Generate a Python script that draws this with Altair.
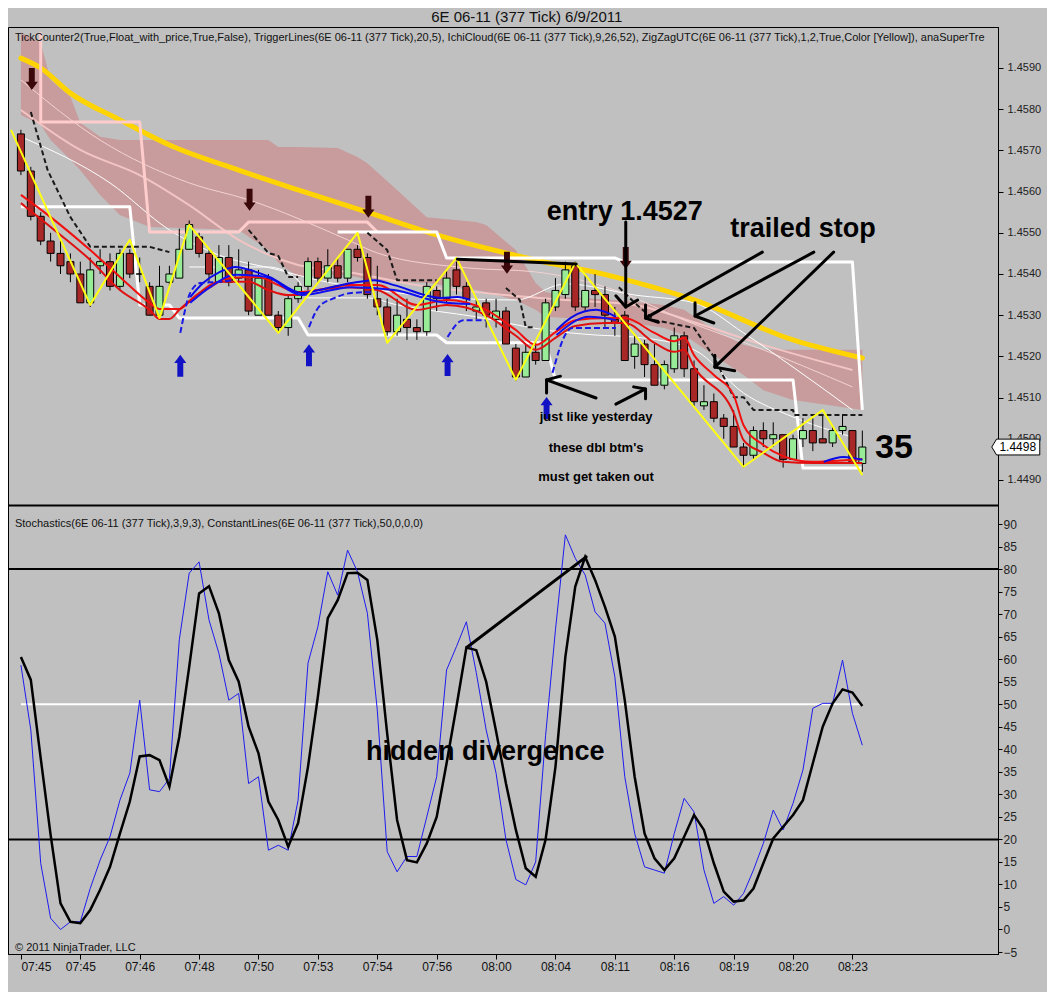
import json
import altair as alt
import pandas as pd

FONT = "Liberation Sans, Arial, Helvetica, sans-serif"

# ---------------- texts ----------------
TITLE = "6E 06-11 (377 Tick)  6/9/2011"
HEADER_PRICE = ("TickCounter2(True,Float_with_price,True,False), TriggerLines(6E 06-11 (377 Tick),20,5), "
                "IchiCloud(6E 06-11 (377 Tick),9,26,52), ZigZagUTC(6E 06-11 (377 Tick),1,2,True,Color [Yellow]), anaSuperTre")
HEADER_STOCH = "Stochastics(6E 06-11 (377 Tick),3,9,3), ConstantLines(6E 06-11 (377 Tick),50,0,0,0)"
COPYRIGHT = "\u00a9 2011 NinjaTrader, LLC"

# ---------------- x axis ----------------
time_labels = ["07:45", "07:45", "07:46", "07:48", "07:50", "07:53", "07:54", "07:56",
               "08:00", "08:04", "08:11", "08:16", "08:19", "08:20", "08:23"]
tick_bars = [0, 6, 12, 18, 24, 30, 36, 42, 48, 54, 60, 66, 72, 78, 84]

# ---------------- candles ----------------
opens = [1.4574, 1.4565, 1.4554, 1.4548, 1.4545, 1.4543, 1.4540, 1.4533, 1.4542, 1.4543,
         1.4537, 1.4545, 1.4540, 1.4537, 1.4530, 1.4538, 1.4539, 1.4546, 1.4549, 1.4545,
         1.4538, 1.4544, 1.4539, 1.4541, 1.4530, 1.4539, 1.4530, 1.4527, 1.4534, 1.4537,
         1.4543, 1.4539, 1.4542, 1.4539, 1.4546, 1.4544, 1.4534, 1.4532, 1.4526, 1.4529,
         1.4527, 1.4526, 1.4536, 1.4534, 1.4541, 1.4537, 1.4531, 1.4533, 1.4529, 1.4531,
         1.4522, 1.4515, 1.4521, 1.4519, 1.4532, 1.4535, 1.4542, 1.4532, 1.4536, 1.4535,
         1.4529, 1.4530, 1.4520, 1.4523, 1.4518, 1.4513, 1.4517, 1.4525, 1.4517, 1.4508,
         1.4509, 1.4505, 1.4503, 1.4498, 1.4496, 1.4502, 1.4500, 1.4501, 1.4495, 1.4500,
         1.4502, 1.4500, 1.4499, 1.4502, 1.4502, 1.4494]
highs = [1.4575, 1.4566, 1.4555, 1.4550, 1.4548, 1.4545, 1.4543, 1.4544, 1.4546, 1.4545,
         1.4546, 1.4546, 1.4544, 1.4538, 1.4542, 1.4542, 1.4551, 1.4553, 1.4550, 1.4546,
         1.4547, 1.4547, 1.4546, 1.4543, 1.4541, 1.4540, 1.4531, 1.4535, 1.4538, 1.4544,
         1.4544, 1.4546, 1.4544, 1.4546, 1.4547, 1.4545, 1.4542, 1.4534, 1.4534, 1.4534,
         1.4529, 1.4538, 1.4537, 1.4541, 1.4543, 1.4538, 1.4534, 1.4534, 1.4534, 1.4532,
         1.4523, 1.4523, 1.4524, 1.4534, 1.4539, 1.4543, 1.4543, 1.4540, 1.4540, 1.4537,
         1.4532, 1.4531, 1.4525, 1.4524, 1.4523, 1.4519, 1.4527, 1.4526, 1.4519, 1.4513,
         1.4511, 1.4506, 1.4507, 1.4499, 1.4503, 1.4504, 1.4504, 1.4501, 1.4501, 1.4505,
         1.4505, 1.4506, 1.4503, 1.4506, 1.4502, 1.4502]
lows = [1.4564, 1.4553, 1.4547, 1.4543, 1.4540, 1.4538, 1.4533, 1.4532, 1.4540, 1.4536,
        1.4536, 1.4539, 1.4538, 1.4530, 1.4529, 1.4537, 1.4539, 1.4546, 1.4544, 1.4538,
        1.4538, 1.4537, 1.4538, 1.4530, 1.4530, 1.4530, 1.4526, 1.4525, 1.4533, 1.4536,
        1.4538, 1.4538, 1.4538, 1.4538, 1.4543, 1.4534, 1.4530, 1.4525, 1.4525, 1.4524,
        1.4524, 1.4525, 1.4531, 1.4533, 1.4535, 1.4531, 1.4529, 1.4527, 1.4527, 1.4523,
        1.4514, 1.4515, 1.4518, 1.4519, 1.4531, 1.4534, 1.4531, 1.4531, 1.4532, 1.4527,
        1.4525, 1.4519, 1.4517, 1.4515, 1.4513, 1.4512, 1.4516, 1.4515, 1.4508, 1.4507,
        1.4504, 1.4500, 1.4498, 1.4493, 1.4495, 1.4498, 1.4498, 1.4493, 1.4495, 1.4498,
        1.4497, 1.4499, 1.4498, 1.4501, 1.4494, 1.4492]
closes = [1.4565, 1.4554, 1.4548, 1.4545, 1.4542, 1.4540, 1.4533, 1.4541, 1.4543, 1.4537,
          1.4545, 1.4540, 1.4540, 1.4530, 1.4537, 1.4540, 1.4546, 1.4552, 1.4545, 1.4540,
          1.4544, 1.4538, 1.4541, 1.4531, 1.4539, 1.4530, 1.4527, 1.4534, 1.4537, 1.4543,
          1.4539, 1.4542, 1.4539, 1.4546, 1.4544, 1.4535, 1.4532, 1.4526, 1.4530, 1.4527,
          1.4526, 1.4537, 1.4534, 1.4539, 1.4537, 1.4534, 1.4532, 1.4530, 1.4531, 1.4523,
          1.4515, 1.4521, 1.4519, 1.4533, 1.4536, 1.4541, 1.4532, 1.4536, 1.4535, 1.4530,
          1.4528, 1.4519, 1.4523, 1.4518, 1.4513, 1.4518, 1.4525, 1.4517, 1.4509, 1.4509,
          1.4505, 1.4503, 1.4498, 1.4496, 1.4502, 1.4500, 1.4501, 1.4495, 1.4500, 1.4502,
          1.4499, 1.4499, 1.4502, 1.4503, 1.4494, 1.4498]
last_price = 1.4498

# ---------------- Ichimoku cloud ----------------
cloud_bars = [0, 2, 3, 5, 6, 8, 10, 13, 22, 25, 26, 28, 32, 34, 35, 38, 41, 46, 47, 50,
              52, 53, 55, 60, 65, 67, 70, 73, 75, 78, 85]
cloud_upper = [1.45987, 1.45961, 1.45871, 1.45830, 1.45767, 1.45733, 1.45725, 1.45725, 1.45725, 1.45725,
               1.45708, 1.45708, 1.45706, 1.45684, 1.45669, 1.45604, 1.45538, 1.45526, 1.45519, 1.45458,
               1.45378, 1.45356, 1.45344, 1.45337, 1.45325, 1.45313, 1.45264, 1.45228, 1.45216, 1.45216,
               1.45216]
cloud_lower = [1.45786, 1.45762, 1.45725, 1.45677, 1.45652, 1.45592, 1.45543, 1.45514, 1.45507, 1.45458,
               1.45427, 1.45393, 1.45398, 1.45393, 1.45385, 1.45381, 1.45378, 1.45361, 1.45356, 1.45337,
               1.45313, 1.45296, 1.45293, 1.45288, 1.45269, 1.45252, 1.45203, 1.45155, 1.45118, 1.45094,
               1.45070]

# thin lines inside / around the cloud
pink_thin_bars = [0, 8, 17, 23, 33, 36, 45, 52, 60, 67, 75, 84]
pink_thin = [1.45871, 1.45725, 1.45621, 1.45580, 1.45483, 1.45451, 1.45415, 1.45405, 1.45361, 1.45288,
             1.45216, 1.45126]
pink_mid_bars = [0, 6, 12, 17, 22, 28, 33, 40, 49, 55, 62, 68, 75, 84]
pink_mid = [1.45798, 1.45701, 1.45640, 1.45567, 1.45483, 1.45422, 1.45405, 1.45373, 1.45349, 1.45337,
            1.45325, 1.45283, 1.45228, 1.45167]
white_thin_a_bars = [0, 9, 15, 20, 26, 30, 36, 43, 50, 55, 62, 68, 73, 78, 84]
white_thin_a = [1.45733, 1.45621, 1.45507, 1.45446, 1.45410, 1.45385, 1.45361, 1.45342, 1.45337, 1.45376,
                1.45349, 1.45330, 1.45257, 1.45174, 1.45070]
white_thin_b_bars = [17, 25, 28, 29, 35, 38, 46, 53, 58, 62, 68, 73, 78, 84]
white_thin_b = [1.45417, 1.45417, 1.45385, 1.45342, 1.45342, 1.45325, 1.45296, 1.45264, 1.45252, 1.45247,
                1.45216, 1.45111, 1.45053, 1.45004]

# thick yellow moving average
yellow_bars = [0, 2, 5, 10, 15, 22, 28, 35, 42, 52, 60, 68, 78, 85]
yellow_ma = [1.45924, 1.45900, 1.45839, 1.45774, 1.45713, 1.45652, 1.45604, 1.45550, 1.45495, 1.45434,
             1.45393, 1.45337, 1.45240, 1.45196]

# step lines (super trend)
pink_step_bars = [2, 2, 12, 13, 22, 23, 35, 36]
pink_step = [1.45987, 1.45769, 1.45769, 1.45502, 1.45502, 1.45526, 1.45526, 1.45502]
white_top_bars = [32, 42, 43, 60, 61, 84, 85]
white_top = [1.45502, 1.45502, 1.45439, 1.45439, 1.45429, 1.45429, 1.45070]
white_low_bars = [0, 11, 12, 15, 16, 28, 29, 42, 43, 53, 54, 78, 79, 85]
white_low = [1.45563, 1.45563, 1.45325, 1.45325, 1.45293, 1.45293, 1.45252, 1.45252, 1.45233, 1.45233,
             1.45143, 1.45143, 1.44929, 1.44929]

# black dashed trigger line (segments)
dash_segments = [
    ([1, 2.7, 5, 7, 13, 15], [1.45793, 1.45652, 1.45538, 1.45466, 1.45466, 1.45453]),
    ([23, 25, 26, 27, 28], [1.45507, 1.45451, 1.45444, 1.45393, 1.45393]),
    ([35, 37, 38, 42], [1.45500, 1.45458, 1.45385, 1.45385]),
    ([49, 50.4, 51, 52], [1.45366, 1.45337, 1.45271, 1.45271]),
    ([60.4, 62, 64, 68, 70, 72, 73, 74, 78, 78.1, 85],
     [1.45368, 1.45330, 1.45288, 1.45269, 1.45199, 1.45101, 1.45101, 1.45070, 1.45070, 1.45058, 1.45058]),
]

# red moving averages
red1_bars = [0, 3, 7, 10, 13, 14, 16, 17, 19, 21, 24, 26, 28, 30, 33, 36, 40, 43, 47, 50,
             52, 54, 56, 59, 61, 64, 66, 67, 68, 70, 72, 73, 75, 77, 80, 82, 85]
red1 = [1.45592, 1.45538, 1.45458, 1.45393, 1.45330, 1.45315, 1.45315, 1.45332, 1.45366, 1.45390,
        1.45393, 1.45373, 1.45356, 1.45361, 1.45373, 1.45373, 1.45325, 1.45337, 1.45313, 1.45264,
        1.45228, 1.45259, 1.45288, 1.45293, 1.45293, 1.45257, 1.45237, 1.45245, 1.45203, 1.45155,
        1.45106, 1.45033, 1.44985, 1.44958, 1.44944, 1.44946, 1.44951]
red2_bars = [0, 3, 7, 10, 13, 14, 15, 16, 18, 20, 23, 25, 27, 28, 30, 33, 36, 40, 43, 47,
             50, 52, 54, 56, 59, 61, 64, 66, 67, 68, 72, 73, 75, 77, 80, 85]
red2 = [1.45572, 1.45514, 1.45434, 1.45361, 1.45313, 1.45291, 1.45291, 1.45313, 1.45354, 1.45381,
        1.45381, 1.45361, 1.45349, 1.45349, 1.45361, 1.45368, 1.45361, 1.45313, 1.45325, 1.45300,
        1.45250, 1.45216, 1.45245, 1.45274, 1.45281, 1.45281, 1.45233, 1.45211, 1.45216, 1.45174,
        1.45063, 1.44997, 1.44966, 1.44944, 1.44941, 1.44941]

# blue trigger lines
blue_a_segments = [
    ([17.1, 18.4, 20.1, 21.7, 23.1, 25.1, 28.4, 30.1, 33.4, 35.7, 37.7, 42.4, 44.1, 45.4],
     [1.45344, 1.45378, 1.45405, 1.45417, 1.45410, 1.45393, 1.45354, 1.45361, 1.45378, 1.45385,
      1.45373, 1.45342, 1.45344, 1.45337]),
    ([54.1, 55.7, 58.1, 60.1], [1.45264, 1.45296, 1.45313, 1.45296]),
    ([81.1, 83.1, 85], [1.44944, 1.44956, 1.44949]),
]
blue_b_segments = [
    ([17.1, 19.1, 21.7, 24.7, 28.4, 33.4, 37.7, 42.4, 45.4],
     [1.45330, 1.45368, 1.45398, 1.45393, 1.45349, 1.45368, 1.45361, 1.45332, 1.45327]),
    ([54.1, 57.4, 60.1], [1.45252, 1.45296, 1.45288]),
]
blue_dash_segments = [
    ([16.1, 17.1, 18.1, 20.1, 21.4], [1.45257, 1.45354, 1.45378, 1.45381, 1.45385]),
    ([29.1, 30.1, 31.7, 33.4, 35.4], [1.45271, 1.45320, 1.45342, 1.45354, 1.45356]),
    ([43.1, 44.7, 47.1], [1.45247, 1.45288, 1.45288]),
    ([53.7, 55.1, 55.7, 60.1], [1.45160, 1.45257, 1.45269, 1.45269]),
]

# yellow zigzag
zig_bars = [-1, 7, 11, 14, 17, 26, 34, 37, 44, 50, 56, 73, 81, 85]
zig = [1.45750, 1.45325, 1.45483, 1.45293, 1.45519, 1.45257, 1.45500, 1.45233, 1.45439, 1.45143,
       1.45427, 1.44932, 1.45070, 1.44912]

# signal arrows
down_arrow_bars = [1.1, 23.1, 35.1, 49.1, 61.1]
down_arrow_prices = [1.45873, 1.45580, 1.45563, 1.45427, 1.45439]
up_arrow_bars = [16.1, 29.1, 43.1, 53.1]
up_arrow_prices = [1.45177, 1.45203, 1.45179, 1.45075]

# hand-drawn annotation strokes (price panel)
annotation_segments = [
    ([44.1, 56.1], [1.45436, 1.45424]),
    ([61.1, 61.1], [1.45526, 1.45320]),
    ([60.1, 61.1, 62.3], [1.45347, 1.45320, 1.45337]),
    ([74.9, 63.1], [1.45453, 1.45293]),
    ([63.1, 63.1, 64.4], [1.45325, 1.45293, 1.45283]),
    ([80.1, 68.1], [1.45453, 1.45298]),
    ([68.1, 68.1, 70.0], [1.45330, 1.45298, 1.45281]),
    ([82.1, 70.1], [1.45453, 1.45174]),
    ([70.1, 70.1, 72.1], [1.45203, 1.45174, 1.45165]),
    ([58.1, 53.1], [1.45099, 1.45143]),
    ([54.5, 53.1, 53.1], [1.45152, 1.45143, 1.45111]),
    ([60.1, 63.1], [1.45084, 1.45121]),
    ([61.9, 63.1, 63.1], [1.45126, 1.45121, 1.45097]),
]
big_notes = [("entry 1.4527", 61.0, 1.45531), ("trailed stop", 79.0, 1.45490)]
small_notes = [("just like yesterday", 58.1, 1.45043), ("these dbl btm's", 58.1, 1.44968),
               ("must get taken out", 58.1, 1.44898)]
count_note = [("35", 88.2, 1.44953)]

# ---------------- stochastics ----------------
stoch_k = [58.7, 44.3, 14.7, 2.5, 0.0, 1.7, 1.7, 9.1, 15.4, 20.6,
           28.7, 34.7, 50.9, 31.0, 30.6, 33.5, 64.3, 79.1, 81.6, 68.7,
           61.3, 50.9, 52.4, 32.4, 33.9, 17.6, 18.7, 17.6, 28.7, 59.1,
           67.2, 79.4, 74.2, 84.2, 79.4, 70.2, 48.7, 17.3, 12.8, 16.2,
           16.2, 25.0, 33.9, 57.6, 62.8, 68.3, 57.0, 44.3, 34.7, 19.9,
           11.1, 9.9, 15.0, 43.0, 66.5, 87.6, 82.4, 78.7, 70.5, 68.0,
           56.1, 33.9, 21.3, 13.9, 13.2, 12.5, 21.3, 29.1, 26.1, 13.2,
           5.8, 7.3, 5.4, 8.0, 13.2, 19.1, 26.5, 22.1, 28.0, 35.4,
           49.1, 50.2, 50.2, 59.8, 48.0, 40.9]
stoch_d = [60.5, 55.4, 38.0, 21.0, 5.8, 1.7, 1.4, 4.3, 8.8, 13.9,
           21.3, 28.4, 38.4, 38.7, 37.6, 31.7, 42.8, 58.3, 74.6, 76.2,
           70.2, 59.8, 55.0, 45.0, 39.1, 28.4, 24.3, 18.4, 23.6, 36.1,
           51.7, 69.1, 73.1, 79.1, 79.2, 77.6, 64.3, 43.5, 24.3, 15.4,
           14.9, 19.1, 25.0, 36.9, 49.5, 62.6, 62.0, 55.0, 44.0, 32.4,
           22.1, 13.6, 11.7, 19.9, 36.1, 60.5, 76.1, 82.7, 77.6, 71.6,
           65.0, 50.9, 33.9, 21.3, 15.8, 13.2, 15.8, 20.6, 25.4, 22.1,
           14.7, 8.4, 6.2, 6.5, 9.1, 14.7, 20.2, 22.8, 25.4, 28.7,
           36.9, 45.0, 50.2, 53.3, 52.6, 49.6]
upper_level, mid_level, lower_level = 80, 50, 20
mid_line_bars = [0, 85]
divergence_segment = [([45.1, 57.1], [62.7, 82.7])]
panel_split = 94.1

# ---------------- scales / axes ----------------
BAR_DOMAIN = [-0.8, 98.2]
PRICE_DOMAIN = [1.437495, 1.459995]
STOCH_DOMAIN = [-5.44, 200.32]
price_ticks = [1.449, 1.450, 1.451, 1.452, 1.453, 1.454, 1.455, 1.456, 1.457, 1.458, 1.459]
stoch_ticks = [-5, 0, 5, 10, 15, 20, 25, 30, 35, 40, 45, 50, 55, 60, 65, 70, 75, 80, 85, 90]

label_expr = f"{json.dumps(time_labels)}[indexof({json.dumps(tick_bars)}, datum.value)]"
x_axis = alt.Axis(values=tick_bars, labelExpr=label_expr, orient="bottom", tickSize=5, tickColor="#000",
                  domainColor="#000", labelColor="#111", labelFont=FONT, labelFontSize=12, labelPadding=2,
                  grid=False, title=None, labelFlush=False, labelOverlap=False, labelAngle=0,
                  labelAlign={"condition": {"test": f"datum.value == {tick_bars[0]}", "value": "left"},
                              "value": "center"})
price_axis = alt.Axis(values=price_ticks, format=".4f", orient="right", tickSize=5, tickColor="#000",
                      domainColor="#000", labelColor="#222", labelFont=FONT, labelFontSize=11, labelPadding=4,
                      grid=False, title=None, labelFlush=False, labelOverlap=False)
stoch_axis = alt.Axis(values=stoch_ticks, format="d", orient="right", tickSize=4, tickColor="#000",
                      domainColor="#000", labelColor="#222", labelFont=FONT, labelFontSize=12, labelPadding=1,
                      grid=False, title=None, labelFlush=False, labelOverlap=False)

X = alt.X("bar:Q", scale=alt.Scale(domain=BAR_DOMAIN, nice=False, zero=False), axis=x_axis)


def YP(field):
    return alt.Y(f"{field}:Q", scale=alt.Scale(domain=PRICE_DOMAIN, nice=False, zero=False), axis=price_axis)


def YS(field):
    return alt.Y(f"{field}:Q", scale=alt.Scale(domain=STOCH_DOMAIN, nice=False, zero=False), axis=stoch_axis)


def seg_frame(segments):
    rows = []
    for s, (bx, vy) in enumerate(segments):
        for i, (b, v) in enumerate(zip(bx, vy)):
            rows.append({"seg": s, "ord": i, "bar": b, "val": v})
    return pd.DataFrame(rows)


def line(segments, color, width, dash=None, interp="linear", stoch=False, cap="butt"):
    kw = dict(color=color, strokeWidth=width, interpolate=interp, strokeCap=cap, strokeJoin="round")
    if dash:
        kw["strokeDash"] = dash
    return alt.Chart(seg_frame(segments)).mark_line(**kw).encode(
        x=X, y=(YS("val") if stoch else YP("val")), detail="seg:N", order="ord:Q")


def text(items, size, stoch=False, weight="bold", align="center", baseline="alphabetic", color="#000"):
    df = pd.DataFrame(items, columns=["label", "bar", "val"])
    return alt.Chart(df).mark_text(font=FONT, fontSize=size, fontWeight=weight, align=align,
                                   baseline=baseline, color=color).encode(
        x=X, y=(YS("val") if stoch else YP("val")), text="label:N")


# ---------------- price panel ----------------
candles = pd.DataFrame({"bar": list(range(len(opens))), "open": opens, "high": highs,
                        "low": lows, "close": closes})
candles["dir"] = ["up" if c >= o else "down" for o, c in zip(opens, closes)]

cloud = alt.Chart(pd.DataFrame({"bar": cloud_bars, "upper": cloud_upper, "lower": cloud_lower})).mark_area(
    color="#C89C9C", opacity=1).encode(x=X, y=YP("upper"), y2=alt.Y2("lower"))

wicks = alt.Chart(candles).mark_rule(color="#000", strokeWidth=1).encode(
    x=X, y=YP("low"), y2=alt.Y2("high"))
bodies = alt.Chart(candles).mark_bar(size=7, stroke="#000", strokeWidth=1).encode(
    x=X, y=YP("open"), y2=alt.Y2("close"),
    color=alt.Color("dir:N", scale=alt.Scale(domain=["up", "down"], range=["#98EC98", "#A82828"]), legend=None))

DOWN_PATH = "M-0.27,-1L0.27,-1L0.27,0.25L0.55,0.25L0,1L-0.55,0.25L-0.27,0.25Z"
UP_PATH = "M-0.27,1L0.27,1L0.27,-0.25L0.55,-0.25L0,-1L-0.55,-0.25L-0.27,-0.25Z"
TAG_PATH = "M-1,0L-0.8,-0.33L1,-0.33L1,0.33L-0.8,0.33Z"

down_arrows = alt.Chart(pd.DataFrame({"bar": down_arrow_bars, "val": down_arrow_prices})).mark_point(
    shape=DOWN_PATH, filled=True, color="#3A0808", size=484, opacity=1, strokeWidth=0).encode(x=X, y=YP("val"))
up_arrows = alt.Chart(pd.DataFrame({"bar": up_arrow_bars, "val": up_arrow_prices})).mark_point(
    shape=UP_PATH, filled=True, color="#1212C4", size=484, opacity=1, strokeWidth=0).encode(x=X, y=YP("val"))

tag = alt.Chart(pd.DataFrame({"bar": [100.5], "val": [last_price]})).mark_point(
    shape=TAG_PATH, filled=True, fill="#FFFFFF", stroke="#000", strokeWidth=1, size=2304, opacity=1).encode(
    x=X, y=YP("val"))
tag_text = alt.Chart(pd.DataFrame({"bar": [100.7], "val": [last_price], "label": [f"{last_price:.4f}"]})).mark_text(
    font=FONT, fontSize=12, align="center", baseline="middle", color="#000").encode(x=X, y=YP("val"), text="label:N")

title = text([(TITLE, 51.1, 1.460238)], 15, weight="normal", baseline="middle", color="#111")
header = text([(HEADER_PRICE, -0.6, 1.459728)], 11, weight="normal", align="left", baseline="middle", color="#111")

price_layers = [
    cloud,
    line([(pink_mid_bars, pink_mid)], "#F2C4C4", 2, interp="monotone"),
    line([(pink_thin_bars, pink_thin)], "#F4D2D2", 1, interp="monotone"),
    line([(white_thin_a_bars, white_thin_a)], "#FFFFFF", 1, interp="monotone"),
    line([(white_thin_b_bars, white_thin_b)], "#FFFFFF", 1, interp="monotone"),
    line([(yellow_bars, yellow_ma)], "#FFD400", 5, interp="monotone", cap="round"),
    line([(pink_step_bars, pink_step)], "#FFCCCC", 3),
    line([(white_top_bars, white_top)], "#FFFFFF", 3),
    line([(white_low_bars, white_low)], "#FFFFFF", 3),
    wicks,
    bodies,
    line(dash_segments, "#1A1A1A", 2, dash=[5, 3]),
    line([(red1_bars, red1)], "#F01010", 2, interp="monotone"),
    line([(red2_bars, red2)], "#E01010", 2, interp="monotone"),
    line(blue_b_segments, "#1010F0", 2, interp="monotone"),
    line(blue_a_segments, "#0A0AE8", 2, interp="monotone"),
    line(blue_dash_segments, "#1818E8", 2, dash=[6, 3], interp="monotone"),
    line([(zig_bars, zig)], "#FFFF10", 2),
    down_arrows,
    up_arrows,
    line(annotation_segments, "#000000", 3, cap="round"),
    text(big_notes, 27),
    text(small_notes, 13),
    text(count_note, 34),
    tag,
    tag_text,
    title,
    header,
]

# ---------------- stochastics panel ----------------
stoch_df = pd.DataFrame({"bar": list(range(len(stoch_k))), "k": stoch_k, "d": stoch_d})
levels = pd.DataFrame({"val": [upper_level, lower_level]})

stoch_layers = [
    alt.Chart(levels).mark_rule(color="#000", strokeWidth=2).encode(y=YS("val")),
    alt.Chart(pd.DataFrame({"val": [panel_split]})).mark_rule(color="#000", strokeWidth=2).encode(y=YS("val")),
    line([(mid_line_bars, [mid_level, mid_level])], "#FFFFFF", 2, stoch=True),
    alt.Chart(stoch_df).mark_line(color="#1C1CF0", strokeWidth=1).encode(x=X, y=YS("k")),
    alt.Chart(stoch_df).mark_line(color="#000", strokeWidth=2.5).encode(x=X, y=YS("d")),
    line(divergence_segment, "#000000", 3, stoch=True, cap="round"),
    text([("hidden divergence", 46.9, 37.6)], 27, stoch=True),
    text([(HEADER_STOCH, -0.6, 90)], 11, stoch=True, weight="normal", align="left", baseline="middle",
         color="#111"),
    text([(COPYRIGHT, -0.6, -4.1)], 11, stoch=True, weight="normal", align="left", baseline="middle",
         color="#111"),
]

price_panel = alt.layer(*price_layers)
stoch_panel = alt.layer(*stoch_layers)

chart = alt.layer(price_panel, stoch_panel).resolve_scale(y="independent").properties(
    width=990, height=927,
    padding={"left": 0, "top": 19, "right": 49, "bottom": 38},
    autosize=alt.AutoSizeParams(type="none"),
).configure(background="#C0C0C0", font=FONT).configure_view(stroke="#000", strokeWidth=1)

chart.save("out.html", embed_options={"renderer": "svg", "actions": False})
